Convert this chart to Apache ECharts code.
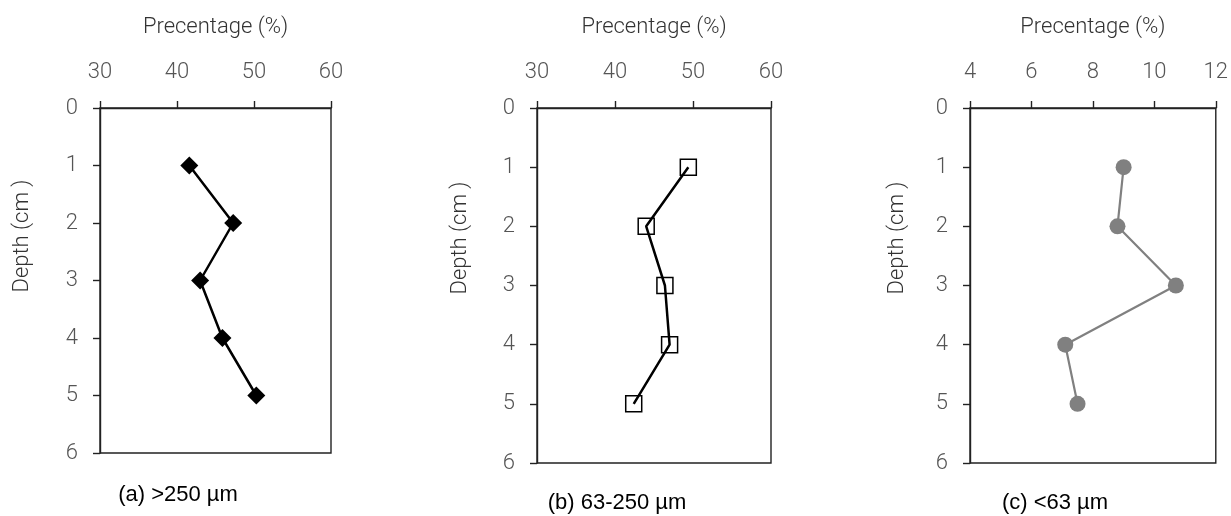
<!DOCTYPE html>
<html>
<head>
<meta charset="utf-8">
<script src="https://cdn.jsdelivr.net/npm/echarts@6/dist/echarts.min.js"></script>
<style>
html,body{margin:0;padding:0;background:#fff;}
#chart{width:1231px;height:516px;}
</style>
</head>
<body>
<div id="chart"></div>
<script>
// ---- data ----
const depths = [1, 2, 3, 4, 5];
const coarse = [41.6, 47.3, 43.0, 45.9, 50.3];   // (a) >250 µm
const medium = [49.4, 44.0, 46.4, 47.0, 42.4];   // (b) 63-250 µm
const fine   = [9.0, 8.8, 10.7, 7.1, 7.5];       // (c) <63 µm
const xTitle = 'Precentage (%)';
const yTitle = 'Depth (cm )';
const captions = ['(a) >250 µm', '(b) 63-250 µm', '(c) <63 µm'];
const xRanges = [[30, 60, 10], [30, 60, 10], [4, 12, 2]];

const pair = (vals) => vals.map((v, i) => [v, depths[i]]);

const grids = [
  {left: 100, top: 108, width: 231, height: 345},
  {left: 537, top: 108, width: 234, height: 355},
  {left: 970, top: 108, width: 246, height: 355}
];

const tickFont = {fontFamily: 'Roboto', fontWeight: 300, fontSize: 22, color: '#555'};
const axisLineStyle = {color: '#222', width: 1.4};

const xAxes = xRanges.map((r, i) => ({
  type: 'value', gridIndex: i, position: 'top',
  min: r[0], max: r[1], interval: r[2],
  name: xTitle, nameLocation: 'middle', nameGap: 70,
  nameTextStyle: {fontFamily: 'Roboto', fontWeight: 300, fontSize: 22, color: '#333'},
  axisLine: {show: true, lineStyle: axisLineStyle},
  axisTick: {show: true, inside: false, length: 7, lineStyle: axisLineStyle},
  axisLabel: Object.assign({margin: 25}, tickFont),
  splitLine: {show: false}
}));

const yAxes = grids.map((g, i) => ({
  type: 'value', gridIndex: i, inverse: true,
  min: 0, max: 6, interval: 1,
  axisLine: {show: true, lineStyle: axisLineStyle},
  axisTick: {show: true, inside: false, length: 7, lineStyle: axisLineStyle},
  axisLabel: Object.assign({margin: 22}, tickFont),
  splitLine: {show: false}
}));

const series = [
  {
    type: 'line', xAxisIndex: 0, yAxisIndex: 0, data: pair(coarse),
    symbol: 'diamond', symbolSize: 18,
    lineStyle: {color: '#000', width: 2.5},
    itemStyle: {color: '#000'}
  },
  {
    type: 'line', xAxisIndex: 1, yAxisIndex: 1, data: pair(medium),
    symbol: 'rect', symbolSize: 16,
    lineStyle: {color: '#000', width: 2.5},
    itemStyle: {color: 'rgba(0,0,0,0)', borderColor: '#000', borderWidth: 1.5}
  },
  {
    type: 'line', xAxisIndex: 2, yAxisIndex: 2, data: pair(fine),
    symbol: 'circle', symbolSize: 16,
    lineStyle: {color: '#808080', width: 2.2},
    itemStyle: {color: '#808080'}
  }
];

const yNameX = [22, 460, 897];
const yNameY = [236, 238, 238];
const capX = [178, 617, 1055];
const capY = [495, 503, 503];

const graphics = [];
for (let i = 0; i < 3; i++) {
  graphics.push({
    type: 'text', x: yNameX[i], y: yNameY[i], rotation: Math.PI / 2,
    style: {
      text: yTitle, font: '300 22px Roboto', fill: '#333',
      align: 'center', verticalAlign: 'middle',
      textAlign: 'center', textVerticalAlign: 'middle'
    }
  });
  graphics.push({
    type: 'text', x: capX[i], y: capY[i],
    style: {
      text: captions[i], font: '22px "Liberation Sans"', fill: '#000',
      align: 'center', verticalAlign: 'middle',
      textAlign: 'center', textVerticalAlign: 'middle'
    }
  });
}

const chart = echarts.init(document.getElementById('chart'), null, {renderer: 'canvas'});
chart.setOption({
  animation: false,
  backgroundColor: '#fff',
  grid: grids.map(g => Object.assign({show: true, borderColor: '#222', borderWidth: 1.4, backgroundColor: 'transparent'}, g)),
  xAxis: xAxes,
  yAxis: yAxes,
  series: series,
  graphic: graphics
});
</script>
</body>
</html>
